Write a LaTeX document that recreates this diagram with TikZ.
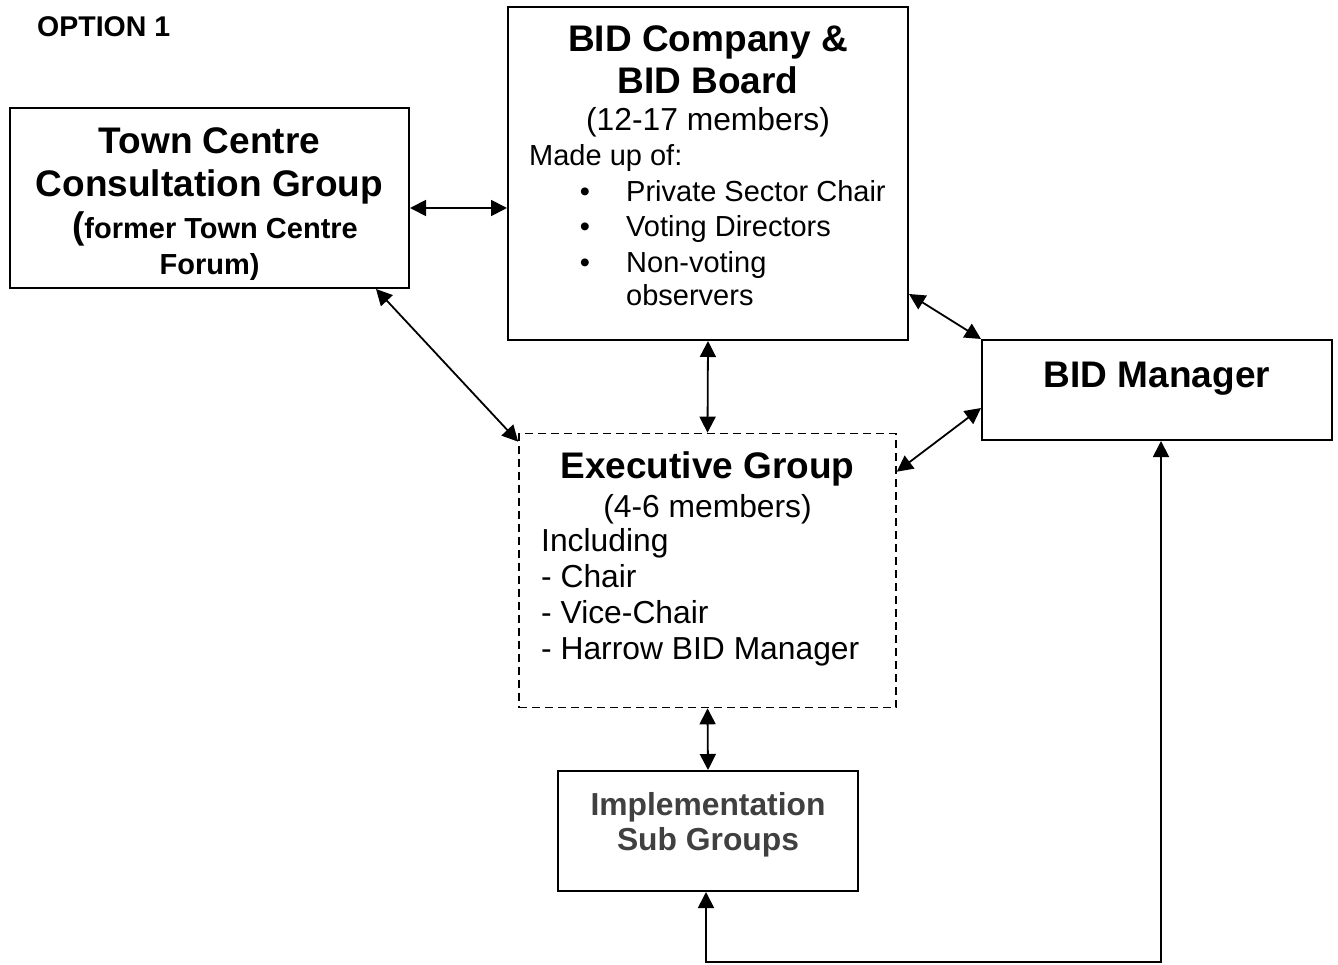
\documentclass[tikz,border=0pt]{standalone}
\usepackage{fontspec}
\setmainfont{Liberation Sans}
\usetikzlibrary{arrows.meta}

\tikzset{
  box/.style={draw, line width=2pt, inner sep=0pt, anchor=center},
  dashbox/.style={box, line width=1.6pt, dash pattern=on 8pt off 5pt},
  link/.style={line width=1.8pt, {Triangle[length=16pt,width=16pt]}-{Triangle[length=16pt,width=16pt]}},
  txt/.style={inner sep=0pt, anchor=base},
  ltxt/.style={inner sep=0pt, anchor=base west},
  big/.style={font=\fontsize{37}{42}\selectfont\bfseries},
  mid/.style={font=\fontsize{31.8}{36}\selectfont},
  midb/.style={font=\fontsize{31.8}{36}\selectfont\bfseries},
  small/.style={font=\fontsize{29}{34}\selectfont},
  smallb/.style={font=\fontsize{29}{34}\selectfont\bfseries},
}

\begin{document}
\begin{tikzpicture}[x=1pt,y=-1pt]
\useasboundingbox (0,0) rectangle (1338,965);

% heading
\node[ltxt, font=\fontsize{28.5}{33}\selectfont\bfseries] (title) at (37,37) {OPTION 1};

% boxes
\node[box, minimum width=399pt, minimum height=180pt] (town) at (209.5,198) {};
\node[box, minimum width=400pt, minimum height=333pt] (company) at (708,173.5) {};
\node[box, minimum width=350pt, minimum height=100pt] (mgr) at (1157,390) {};
\node[dashbox, minimum width=377pt, minimum height=274pt] (exec) at (707.5,570.5) {};
\node[box, minimum width=300pt, minimum height=120pt] (impl) at (708,831) {};

% Town Centre Consultation Group
\node[txt, big] (t1) at (209.5,154) {Town Centre};
\node[txt, big] (t2) at (209.5,197) {Consultation Group};
\node[txt, smallb] (t3) at (215,239) {{\fontsize{37}{42}\selectfont(}former Town Centre};
\node[txt, smallb] (t4) at (209.5,275) {Forum)};

% BID Company & BID Board
\node[txt, big] (c1) at (708,52) {BID Company \&};
\node[txt, big] (c2) at (708,94) {BID Board};
\node[txt, mid] (c3) at (708,131) {(12-17 members)};
\node[ltxt, small] (c4) at (529,166) {Made up of:};
\node[txt, small] (b1) at (585,202) {\textbullet};
\node[ltxt, small] (c5) at (626,202) {Private Sector Chair};
\node[txt, small] (b2) at (585,237) {\textbullet};
\node[ltxt, small] (c6) at (626,237) {Voting Directors};
\node[txt, small] (b3) at (585,273) {\textbullet};
\node[ltxt, small] (c7) at (626,273) {Non-voting};
\node[ltxt, small] (c8) at (626,306) {observers};

% BID Manager
\node[txt, big] (m1) at (1157,387) {BID Manager};

% Executive Group
\node[txt, big] (e1) at (707.5,478) {Executive Group};
\node[txt, mid] (e2) at (707.5,517) {(4-6 members)};
\node[ltxt, mid] (e3) at (541,551) {Including};
\node[ltxt, mid] (e4) at (541,587) {- Chair};
\node[ltxt, mid] (e5) at (541,623) {- Vice-Chair};
\node[ltxt, mid] (e6) at (541,659) {- Harrow BID Manager};

% Implementation Sub Groups
\node[txt, midb, text=black!75] (i1) at (708,815) {Implementation};
\node[txt, midb, text=black!75] (i2) at (708,850) {Sub Groups};

% connectors
\draw[link] ([yshift=-10pt]town.east) -- ([yshift=-10pt]town.east -| company.west);
\draw[link] ([xshift=-34pt]town.south east) -- ([yshift=-9pt]exec.north west);
\draw[link] (company.south) -- (exec.north);
\draw[link] ([yshift=47pt]company.south east) -- (mgr.north west);
\draw[link] ([yshift=-39pt]exec.north east) -- ([yshift=33pt]mgr.south west);
\draw[link] (exec.south) -- (impl.north);
\coordinate (turn) at (1161,962);
\draw[link] ([xshift=-2pt]impl.south) |- (turn) -- (mgr.south -| turn);
\end{tikzpicture}
\end{document}
